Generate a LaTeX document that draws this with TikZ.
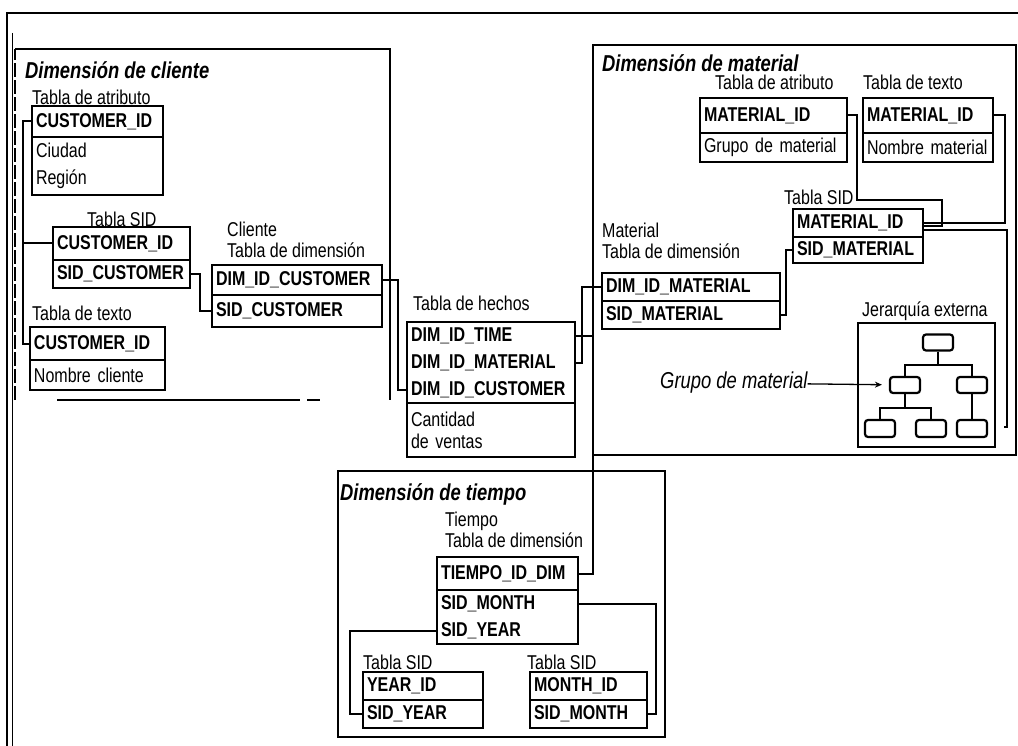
\documentclass[tikz,border=0pt]{standalone}
\usepackage{fontspec}
\setmainfont{Liberation Sans}[FakeStretch=0.8]
\usepackage{tikz}
\usetikzlibrary{positioning,arrows.meta}
\newcommand\tabfont{\fontsize{20}{27}\selectfont}
\newcommand\dimfont{\fontsize{23}{25}\selectfont\bfseries\itshape}

\begin{document}
\begin{tikzpicture}[x=1pt,y=-1pt,
hd/.style={draw,line width=2.6pt,anchor=north west,outer sep=0pt,inner xsep=4pt,inner ysep=0pt,text width=#1,align=left,minimum height=31pt,font=\tabfont\bfseries},
bd/.style={hd=#1,font=\tabfont},
rw/.style={hd=#1,draw=none,minimum height=27pt},
lbl/.style={anchor=west,inner sep=0pt,align=left,font=\fontsize{20}{21}\selectfont},
dimt/.style={anchor=west,inner sep=0pt,font=\dimfont},
cn/.style={line width=2pt},
frm/.style={line width=1.3pt},
hn/.style={draw,line width=2.2pt,rounded corners=3pt,minimum width=30pt,minimum height=16pt,inner sep=0pt}
]
\useasboundingbox (0,0) rectangle (1018,746);
\draw[line width=2.5pt] (1018,13) -- (7,13) -- (7,746);
\draw[line width=0.8pt] (12,33) -- (12,746);
\draw[frm,dash pattern=on 14pt off 3pt] (15,400) -- (15,49);
\draw[frm] (15,49) -- (390,49) -- (390,400);
\draw[frm] (57,400) -- (300,400) (307,400) -- (320,400);
\draw[frm] (593,45) rectangle (1016,455);
\draw[frm] (338,471) rectangle (665,737);

\node[dimt] (dc) at (25,70) {Dimensión de cliente};
\node[lbl] (ca-l) at (32,97) {Tabla de atributo};
\node[hd=123pt] (ca-h) at (32,106) {CUSTOMER\_ID};
\node[bd=123pt,minimum height=58pt,below=0pt of ca-h] (ca-b) {Ciudad\\Región};
\node[lbl] (cs-l) at (87,219) {Tabla SID};
\node[hd=129pt,minimum height=33pt] (cs-h) at (53,227) {CUSTOMER\_ID};
\node[hd=129pt,minimum height=28pt,below=0pt of cs-h] (cs-b) {SID\_CUSTOMER};
\node[lbl] (cd-l) at (227,240) {Cliente\\Tabla de dimensión};
\node[hd=162pt,minimum height=30pt] (cd-h) at (212,265) {DIM\_ID\_CUSTOMER};
\node[hd=162pt,minimum height=32pt,below=0pt of cd-h] (cd-b) {SID\_CUSTOMER};
\node[lbl] (ct-l) at (32,313) {Tabla de texto};
\node[hd=127pt,minimum height=33pt] (ct-h) at (30,327) {CUSTOMER\_ID};
\node[bd=127pt,minimum height=30pt,below=0pt of ct-h] (ct-b) {Nombre cliente};

\node[lbl] (f-l) at (413,303) {Tabla de hechos};
\node[rw=160pt] (f-time) at (407,322) {DIM\_ID\_TIME};
\node[rw=160pt,below=0pt of f-time] (f-mat) {DIM\_ID\_MATERIAL};
\node[rw=160pt,below=0pt of f-mat] (f-cust) {DIM\_ID\_CUSTOMER};
\draw[line width=2.6pt] (f-time.north west) rectangle (f-cust.south east);
\node[bd=160pt,minimum height=54pt,font=\fontsize{20}{22}\selectfont,below=0pt of f-cust] (f-b) {Cantidad\\de ventas};

\node[dimt] (dm) at (602,63) {Dimensión de material};
\node[lbl] (ma-l) at (715,82) {Tabla de atributo};
\node[hd=139pt,minimum height=35pt] (ma-h) at (700,98) {MATERIAL\_ID};
\node[bd=139pt,minimum height=29pt,below=0pt of ma-h] (ma-b) {Grupo de material};
\node[lbl] (mt-l) at (863,82) {Tabla de texto};
\node[hd=122pt,minimum height=35pt] (mt-h) at (863,98) {MATERIAL\_ID};
\node[bd=122pt,minimum height=29pt,below=0pt of mt-h] (mt-b) {Nombre material};
\node[lbl] (ms-l) at (784,197) {Tabla SID};
\node[hd=122pt,minimum height=28pt] (ms-h) at (793,209) {MATERIAL\_ID};
\node[hd=122pt,minimum height=26pt,below=0pt of ms-h] (ms-b) {SID\_MATERIAL};
\node[lbl] (md-l) at (602,241) {Material\\Tabla de dimensión};
\node[hd=170pt,minimum height=28pt] (md-h) at (602,273) {DIM\_ID\_MATERIAL};
\node[hd=170pt,minimum height=28pt,below=0pt of md-h] (md-b) {SID\_MATERIAL};
\node[lbl] (hj-l) at (862,311) {Jerarquía externa};
\node[draw,line width=2.6pt,minimum width=137pt,minimum height=124pt] (hj) at (926.5,385) {};
\node[hn] (h0) at (938,342.5) {};
\node[hn] (h1) at (905,385) {};
\node[hn] (h2) at (972,385) {};
\node[hn,minimum height=17pt] (h3) at (880,428.5) {};
\node[hn,minimum height=17pt] (h4) at (931,428.5) {};
\node[hn,minimum height=17pt] (h5) at (972,428.5) {};
\node[lbl,font=\fontsize{23}{25}\selectfont\itshape] (gm) at (660,383) {Grupo de material};

\node[dimt] (dt) at (340,494) {Dimensión de tiempo};
\node[lbl] (t-l) at (445,530) {Tiempo\\Tabla de dimensión};
\node[hd=133pt,minimum height=33pt] (t-h) at (437,557) {TIEMPO\_ID\_DIM};
\node[rw=133pt,below=0pt of t-h] (t-mon) {SID\_MONTH};
\node[rw=133pt,below=0pt of t-mon] (t-yr) {SID\_YEAR};
\draw[line width=2.6pt] (t-mon.north west) rectangle (t-yr.south east);
\node[lbl] (ty-l) at (363,662) {Tabla SID};
\node[hd=112pt,minimum height=28pt] (ty-h) at (363,672) {YEAR\_ID};
\node[hd=112pt,minimum height=28pt,below=0pt of ty-h] (ty-b) {SID\_YEAR};
\node[lbl] (tm-l) at (527,662) {Tabla SID};
\node[hd=109pt,minimum height=28pt] (tm-h) at (530,672) {MONTH\_ID};
\node[hd=109pt,minimum height=28pt,below=0pt of tm-h] (tm-b) {SID\_MONTH};

\draw[cn] (ca-h.west) -- ++(-9,0) |- (cs-h.west);
\draw[cn] (ct-h.west) -- ++(-7,0) |- (cs-h.west);
\draw[cn] (cs-b.east) -- ++(10,0) |- (cd-b.west);
\draw[cn] (cd-h.east) -- ++(16,0) |- (f-cust.west);
\draw[cn] (f-mat.east) -- ++(7,0) |- (md-h.west);
\draw[cn] (f-time.east) -- ++(18,0) |- (t-h.east);
\draw[cn] (ma-h.east) -- ++(10,0) -- ++(0,84.5) -- ++(85,0) |- ([yshift=-3pt]ms-h.east);
\draw[cn] (mt-h.east) -- ++(12,0) |- (ms-h.east);
\draw[cn] ([yshift=-7pt]ms-h.east) -- ++(84,0) |- ([xshift=8pt,yshift=-42pt]hj.east);
\draw[cn] (ms-b.west) -- ++(-7,0) |- (md-b.east);
\draw[cn] (t-yr.west) -- ++(-87,0) |- (ty-b.west);
\draw[cn] (t-mon.east) -- ++(78,0) |- (tm-b.east);
\draw[line width=2.2pt] (h0.south) -- ++(0,13) -| (h1.north);
\draw[line width=2.2pt] (h0.south) -- ++(0,13) -| (h2.north);
\draw[line width=2.2pt] (h1.south) -- ++(0,14) -| (h3.north);
\draw[line width=2.2pt] (h1.south) -- ++(0,14) -| (h4.north);
\draw[line width=2.2pt] (h2) -- (h5);
\draw[line width=1.3pt,-{Stealth[length=7pt,width=6pt]},shorten >=7pt] (gm) -- (h1);
\end{tikzpicture}
\end{document}
